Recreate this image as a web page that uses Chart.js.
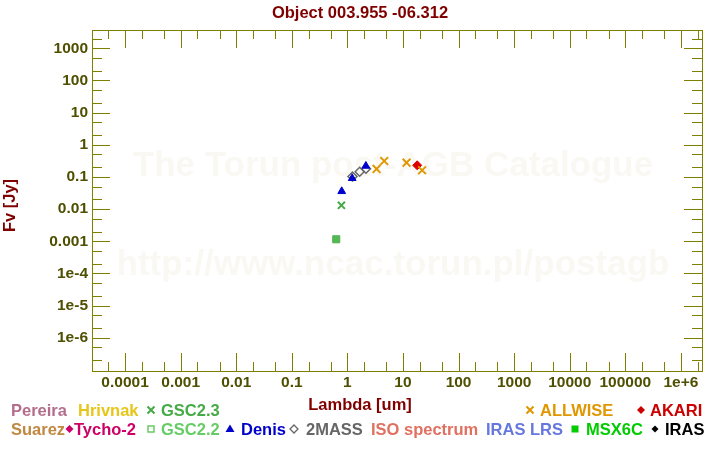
<!DOCTYPE html>
<html><head><meta charset="utf-8">
<script src="https://cdn.jsdelivr.net/npm/chart.js@4/dist/chart.umd.min.js"></script>
<style>html,body{margin:0;padding:0;background:#fff;} #wrap{width:720px;height:450px;position:relative;}</style>
</head><body><div id="wrap"><canvas id="c" width="720" height="450"></canvas></div>
<script>
// ---- data (wavelength in um, flux in Jy) ----
const gsc22Lambda = [0.63];
const gsc22Flux = [0.00115];
const gsc23Lambda = [0.78];
const gsc23Flux = [0.0131];
const denisLambda = [0.79, 1.22, 2.15];
const denisFlux = [0.0357, 0.0908, 0.219];
const twomassLambda = [1.235, 1.662, 2.159];
const twomassFlux = [0.103, 0.145, 0.179];
const allwiseLambda = [3.35, 4.6, 11.6, 22.1];
const allwiseFlux = [0.177, 0.313, 0.277, 0.161];
const akariLambda = [18];
const akariFlux = [0.230];
const xTickValues = [1e-4, 1e-3, 1e-2, 1e-1, 1, 10, 100, 1000, 1e4, 1e5, 1e6];
const xTickLabels = ['0.0001','0.001','0.01','0.1','1','10','100','1000','10000','100000','1e+6'];
const yTickValues = [1e-6, 1e-5, 1e-4, 1e-3, 1e-2, 1e-1, 1, 10, 100, 1000];
const yTickLabels = ['1e-6','1e-5','1e-4','0.001','0.01','0.1','1','10','100','1000'];
const legendLabels = ['Pereira','Hrivnak','GSC2.3','ALLWISE','AKARI','Suarez','Tycho-2','GSC2.2','Denis','2MASS','ISO spectrum','IRAS LRS','MSX6C','IRAS'];
const chartTitle = 'Object 003.955 -06.312';
const xTitle = 'Lambda [um]';
const yTitle = 'Fv [Jy]';
const watermark1 = 'The Torun post-AGB Catalogue';
const watermark2 = 'http://www.ncac.torun.pl/postagb';

const FONT = "'Liberation Sans', Arial, sans-serif";
const AXIS_COLOR = '#808000';
const TICK_TEXT = '#4f4f00';
const TITLE_COLOR = '#800000';

function pts(xs, ys) { return xs.map((x, i) => ({x: x, y: ys[i]})); }
function isMember(v, list) { return list.some(t => Math.abs(Math.log10(v) - Math.log10(t)) < 1e-9); }
function buildTicks(scale, majors) {
  const lo = Math.log10(scale.min), hi = Math.log10(scale.max);
  const out = [];
  for (let d = Math.floor(lo) - 1; d <= Math.ceil(hi) + 1; d++) {
    [1, 2, 5].forEach(m => {
      const v = m * Math.pow(10, d);
      const lv = Math.log10(v);
      if (lv < lo || lv > hi) return;
      if (m === 1 && !isMember(v, majors)) return;
      out.push({value: v, major: m === 1});
    });
  }
  scale.ticks = out;
}
function labelFor(v, vals, labels) {
  for (let i = 0; i < vals.length; i++) if (Math.abs(Math.log10(v) - Math.log10(vals[i])) < 1e-9) return labels[i];
  return '';
}

const legendLayout = [
  {c:'#b46e8c', x:11, row:0},
  {c:'#e6c619', x:78, row:0},
  {c:'#46aa46', x:161, row:0, m:'cross', mx:151},
  {c:'#e09600', x:540, row:0, m:'cross', mx:530},
  {c:'#cc0000', x:650, row:0, m:'diamond', mx:641},
  {c:'#c08840', x:11, row:1},
  {c:'#cc0066', x:74, row:1, m:'diamond', mx:69.5},
  {c:'#66cc66', x:161, row:1, m:'square', mx:151},
  {c:'#0000cc', x:241, row:1, m:'triangle', mx:230},
  {c:'#666666', x:306, row:1, m:'diamondOpen', mx:294},
  {c:'#e07060', x:371, row:1},
  {c:'#6677dd', x:486, row:1},
  {c:'#00cc00', x:586, row:1, m:'squareFilled', mx:575},
  {c:'#000000', x:665, row:1, m:'dot', mx:655}
];

function drawMarker(ctx, m, x, y, c) {
  ctx.save();
  ctx.fillStyle = c; ctx.strokeStyle = c;
  ctx.beginPath();
  if (m === 'cross') {
    ctx.lineWidth = 2;
    ctx.moveTo(x - 3.5, y - 3.5); ctx.lineTo(x + 3.5, y + 3.5);
    ctx.moveTo(x + 3.5, y - 3.5); ctx.lineTo(x - 3.5, y + 3.5);
    ctx.stroke();
  } else if (m === 'diamond') {
    ctx.moveTo(x, y - 4); ctx.lineTo(x + 4, y); ctx.lineTo(x, y + 4); ctx.lineTo(x - 4, y); ctx.closePath(); ctx.fill();
  } else if (m === 'diamondOpen') {
    ctx.lineWidth = 1.3;
    ctx.moveTo(x, y - 4); ctx.lineTo(x + 4, y); ctx.lineTo(x, y + 4); ctx.lineTo(x - 4, y); ctx.closePath(); ctx.stroke();
  } else if (m === 'square') {
    ctx.lineWidth = 1.5; ctx.strokeRect(x - 3, y - 3, 6, 6);
  } else if (m === 'squareFilled') {
    ctx.fillRect(x - 3.5, y - 3.5, 7, 7);
  } else if (m === 'triangle') {
    ctx.moveTo(x, y - 4.5); ctx.lineTo(x + 4.5, y + 3); ctx.lineTo(x - 4.5, y + 3); ctx.closePath(); ctx.fill();
  } else if (m === 'dot') {
    ctx.moveTo(x, y - 3.5); ctx.lineTo(x + 3.5, y); ctx.lineTo(x, y + 3.5); ctx.lineTo(x - 3.5, y); ctx.closePath(); ctx.fill();
  }
  ctx.restore();
}

const framePlugin = {
  id: 'frame',
  beforeDatasetsDraw(chart) {
    const ctx = chart.ctx, a = chart.chartArea;
    const xs = chart.scales.x, ys = chart.scales.y;
    ctx.save();
    // watermark
    ctx.fillStyle = '#f9f8f3';
    ctx.font = 'bold 35px ' + FONT;
    ctx.textAlign = 'center'; ctx.textBaseline = 'alphabetic';
    const cx = (a.left + a.right) / 2 - 4;
    ctx.fillText(watermark1, cx, 176);
    ctx.fillText(watermark2, cx, 275);
    // frame
    ctx.strokeStyle = AXIS_COLOR; ctx.lineWidth = 1;
    ctx.strokeRect(Math.round(a.left) + 0.5, Math.round(a.top) + 0.5, Math.round(a.right - a.left), Math.round(a.bottom - a.top));
    ctx.beginPath();
    xs.ticks.forEach(t => {
      const px = Math.round(xs.getPixelForValue(t.value)) + 0.5;
      const len = t.major ? 18 : 9;
      ctx.moveTo(px, a.bottom); ctx.lineTo(px, a.bottom - len);
      ctx.moveTo(px, a.top); ctx.lineTo(px, a.top + len);
    });
    ys.ticks.forEach(t => {
      const py = Math.round(ys.getPixelForValue(t.value)) + 0.5;
      const len = t.major ? 18 : 10;
      ctx.moveTo(a.left, py); ctx.lineTo(a.left + len, py);
      ctx.moveTo(a.right, py); ctx.lineTo(a.right - len, py);
    });
    ctx.stroke();
    ctx.restore();
  },
  afterDraw(chart) {
    const ctx = chart.ctx;
    ctx.save();
    ctx.fillStyle = TITLE_COLOR;
    ctx.font = 'bold 16.5px ' + FONT;
    ctx.textAlign = 'center'; ctx.textBaseline = 'alphabetic';
    ctx.fillText(chartTitle, 360, 18);
    ctx.fillText(xTitle, 360, 410);
    ctx.save();
    ctx.translate(15, 205.5);
    ctx.rotate(-Math.PI / 2);
    ctx.fillText(yTitle, 0, 0);
    ctx.restore();
    // legend
    ctx.font = 'bold 16.5px ' + FONT;
    ctx.textAlign = 'left';
    legendLayout.forEach((it, i) => {
      const base = it.row === 0 ? 416 : 435;
      if (it.m) drawMarker(ctx, it.m, it.mx, base - 6, it.c);
      ctx.fillStyle = it.c;
      ctx.fillText(legendLabels[i], it.x, base);
    });
    ctx.restore();
  }
};

new Chart(document.getElementById('c'), {
  type: 'scatter',
  data: {
    datasets: [
      {label:'ALLWISE', data: pts(allwiseLambda, allwiseFlux), pointStyle:'crossRot', pointRadius:5.5, borderColor:'#e09600', backgroundColor:'#e09600', borderWidth:2},
      {label:'AKARI', data: pts(akariLambda, akariFlux), pointStyle:'rectRot', pointRadius:4.5, borderColor:'#dd0000', backgroundColor:'#dd0000', borderWidth:1},
      {label:'Denis', data: pts(denisLambda, denisFlux), pointStyle:'triangle', pointRadius:4.5, borderColor:'#0000cc', backgroundColor:'#0000cc', borderWidth:1},
      {label:'2MASS', data: pts(twomassLambda, twomassFlux), pointStyle:'rectRot', pointRadius:4.5, borderColor:'#666666', backgroundColor:'rgba(0,0,0,0)', borderWidth:1.5},
      {label:'GSC2.3', data: pts(gsc23Lambda, gsc23Flux), pointStyle:'crossRot', pointRadius:5, borderColor:'#46aa46', backgroundColor:'#46aa46', borderWidth:2},
      {label:'GSC2.2', data: pts(gsc22Lambda, gsc22Flux), pointStyle:'rect', pointRadius:5, borderColor:'#4fb24f', backgroundColor:'#55b855', borderWidth:1}
    ]
  },
  options: {
    responsive: false,
    animation: false,
    events: [],
    layout: {padding: {left: 0, top: 30, right: 18, bottom: 0}},
    plugins: {legend: {display: false}, tooltip: {enabled: false}, title: {display: false}},
    scales: {
      x: {
        type: 'logarithmic',
        min: Math.pow(10, -4.595), max: Math.pow(10, 6.38),
        afterBuildTicks: s => buildTicks(s, xTickValues),
        afterFit: s => { s.height = 79; },
        grid: {display: false, drawTicks: false},
        border: {display: false},
        ticks: {autoSkip: false, maxRotation: 0, padding: 2, color: TICK_TEXT,
          font: {family: FONT, size: 15.5, weight: 'bold'},
          callback: v => labelFor(v, xTickValues, xTickLabels)}
      },
      y: {
        type: 'logarithmic',
        min: Math.pow(10, -7.035), max: Math.pow(10, 3.569),
        afterBuildTicks: s => buildTicks(s, yTickValues),
        afterFit: s => { s.width = 92; },
        grid: {display: false, drawTicks: false},
        border: {display: false},
        ticks: {autoSkip: false, padding: 4, color: TICK_TEXT,
          font: {family: FONT, size: 15.5, weight: 'bold'},
          callback: v => labelFor(v, yTickValues, yTickLabels)}
      }
    }
  },
  plugins: [framePlugin]
});
</script></body></html>
